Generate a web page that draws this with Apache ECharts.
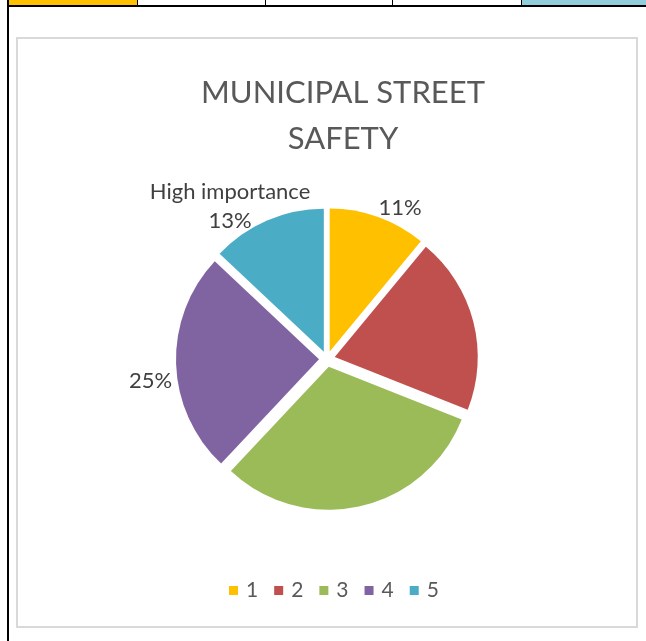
<!DOCTYPE html>
<html>
<head>
<meta charset="utf-8">
<script src="https://cdn.jsdelivr.net/npm/echarts@6/dist/echarts.min.js"></script>
<style>
  html, body { margin:0; padding:0; background:#fff; }
  #wrap { position:relative; width:646px; height:641px; overflow:hidden; }
  .d { position:absolute; }
  #chart { position:absolute; left:0; top:0; width:646px; height:641px; }
</style>
</head>
<body>
<div id="wrap">
  <div class="d" style="left:8px;top:0;width:129px;height:5px;background:#FFC000"></div>
  <div class="d" style="left:522px;top:0;width:124px;height:5px;background:#92CDDC"></div>
  <div class="d" style="left:137px;top:0;width:1px;height:5px;background:#000"></div>
  <div class="d" style="left:265px;top:0;width:1px;height:5px;background:#000"></div>
  <div class="d" style="left:392px;top:0;width:1px;height:5px;background:#000"></div>
  <div class="d" style="left:521px;top:0;width:1px;height:5px;background:#000"></div>
  <div class="d" style="left:7px;top:5px;width:639px;height:2px;background:#000"></div>
  <div class="d" style="left:7px;top:0;width:2px;height:641px;background:#000"></div>
  <div class="d" style="left:16px;top:37px;width:618px;height:587px;border:2px solid #D9D9D9"></div>
  <div id="chart"></div>
</div>
<script>
const titleText = 'MUNICIPAL STREET\nSAFETY';
const categories = ['1', '2', '3', '4', '5'];
const values = [11, 20, 31, 25, 13];
const labelTexts = ['11%', '', '', '25%', 'High importance\n13%'];
const colors = ['#FFC000', '#C0504D', '#9BBB59', '#8064A2', '#4BACC6'];

const FONT = 'Lato, "Open Sans", sans-serif';
const labelAdjust = [
  {dx: -8, dy: 0},
  {dx: 0, dy: 0},
  {dx: 0, dy: 0},
  {dx: 11, dy: 17},
  {dx: -28, dy: -5, align: 'center'}
];

const chart = echarts.init(document.getElementById('chart'), null, {renderer: 'canvas'});
chart.setOption({
  animation: false,
  backgroundColor: 'transparent',
  title: {
    text: titleText,
    left: 338, top: 65, textAlign: 'center',
    textStyle: { fontFamily: FONT, fontSize: 31, fontWeight: 'normal', color: '#595959', lineHeight: 46 }
  },
  legend: {
    data: categories,
    bottom: 35, left: 224,
    icon: 'rect', itemWidth: 9, itemHeight: 9, itemGap: 16,
    textStyle: { fontFamily: FONT, fontSize: 21, color: '#595959', padding: [0, 0, 0, 3] },
    selectedMode: false
  },
  series: [{
    type: 'pie',
    center: [327, 359],
    radius: 143,
    startAngle: 90,
    clockwise: true,
    selectedMode: 'multiple',
    selectedOffset: 8,
    label: {
      show: true, position: 'outside',
      fontFamily: FONT, fontSize: 22, color: '#404040', lineHeight: 29, align: 'center',
      formatter: p => labelTexts[p.dataIndex]
    },
    labelLine: { show: false, length: 10, length2: 0 },
    labelLayout: p => labelAdjust[p.dataIndex],
    emphasis: { disabled: true },
    data: categories.map((c, i) => ({
      name: c, value: values[i], selected: true,
      itemStyle: { color: colors[i] }
    }))
  }]
});
</script>
</body>
</html>
